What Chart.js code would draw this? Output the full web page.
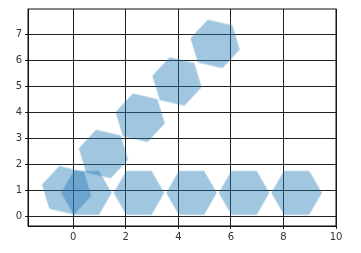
<!DOCTYPE html>
<html>
<head>
<meta charset="utf-8">
<script src="https://cdn.jsdelivr.net/npm/chart.js@4"></script>
<style>
  html, body { margin: 0; padding: 0; background: #fff; }
</style>
</head>
<body>
<canvas id="chart" width="361" height="253"></canvas>
<script>
// tilted row of hexagons
const diagX = [-0.25, 1.15, 2.55, 3.95, 5.4];
const diagY = [1.0, 2.4, 3.8, 5.2, 6.65];
// flat row along the bottom
const rowX = [0.5, 2.5, 4.5, 6.5, 8.5];
const rowY = [0.9, 0.9, 0.9, 0.9, 0.9];

const xTicks = [0, 2, 4, 6, 8, 10];
const yTicks = [0, 1, 2, 3, 4, 5, 6, 7];

function hexagon(r, color) {
  const c = document.createElement("canvas");
  const s = Math.ceil(r * 2 + 2);
  c.width = s;
  c.height = s;
  const ctx = c.getContext("2d");
  ctx.beginPath();
  for (let i = 0; i < 6; i++) {
    const a = i * Math.PI / 3;
    const px = s / 2 + r * Math.cos(a);
    const py = s / 2 + r * Math.sin(a);
    if (i === 0) ctx.moveTo(px, py); else ctx.lineTo(px, py);
  }
  ctx.closePath();
  ctx.fillStyle = color;
  ctx.fill();
  return c;
}

const hex = hexagon(25.3, "rgba(31,119,180,0.42)");

function pts(xs, ys) {
  return xs.map((x, i) => ({ x: x, y: ys[i] }));
}

const frame = {
  id: "frame",
  afterDraw(chart) {
    const a = chart.chartArea;
    const ctx = chart.ctx;
    ctx.save();
    ctx.strokeStyle = "#111";
    ctx.lineWidth = 1;
    ctx.strokeRect(a.left, a.top, a.right - a.left, a.bottom - a.top);
    ctx.restore();
  }
};

const font = { family: "DejaVu Sans", size: 10 };

new Chart(document.getElementById("chart"), {
  type: "scatter",
  data: {
    datasets: [
      {
        data: pts(diagX, diagY),
        pointStyle: hex,
        rotation: 13,
        pointRadius: 25,
        pointHoverRadius: 25
      },
      {
        data: pts(rowX, rowY),
        pointStyle: hex,
        rotation: 0,
        pointRadius: 25,
        pointHoverRadius: 25
      }
    ]
  },
  options: {
    responsive: false,
    animation: false,
    layout: { autoPadding: false, padding: { left: 0, right: 25, top: 7, bottom: 0 } },
    plugins: { legend: { display: false }, tooltip: { enabled: false } },
    scales: {
      x: {
        type: "linear",
        min: -1.72,
        max: 10,
        afterBuildTicks: s => { s.ticks = xTicks.map(v => ({ value: v })); },
        afterFit: s => { s.height = 27; },
        grid: { color: "#222", lineWidth: 1, tickLength: 3 },
        border: { color: "#111" },
        ticks: { color: "#333", font: font, padding: 2, maxRotation: 0 }
      },
      y: {
        type: "linear",
        min: -0.38,
        max: 8.0,
        afterBuildTicks: s => { s.ticks = yTicks.map(v => ({ value: v })); },
        afterFit: s => { s.width = 28; },
        grid: { color: "#222", lineWidth: 1, tickLength: 3 },
        border: { color: "#111" },
        ticks: { color: "#333", font: font, padding: 3 }
      }
    }
  },
  plugins: [frame]
});
</script>
</body>
</html>
